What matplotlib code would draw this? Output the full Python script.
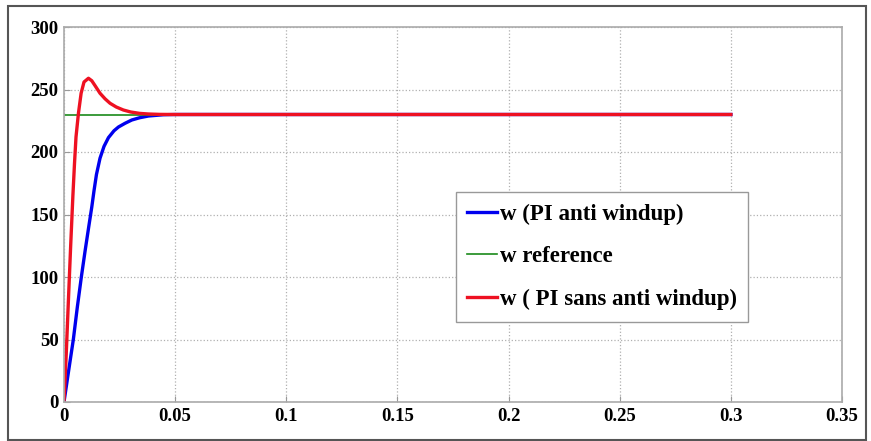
import matplotlib
matplotlib.use('Agg')
import matplotlib.pyplot as plt
from matplotlib.patches import Rectangle

# time (s) and speed values
t_blue = [0, 0.002, 0.0042, 0.006, 0.0078, 0.0095, 0.0112, 0.0125, 0.0135, 0.0146,
          0.0162, 0.018, 0.020, 0.0225, 0.0245, 0.0275, 0.0305, 0.034, 0.038, 0.0447,
          0.050, 0.300]
w_blue = [0, 24, 50, 76, 100, 121, 141, 156, 169, 182,
          195, 204.5, 211.5, 217, 220, 223, 225.6, 227.4, 228.8, 229.8,
          230, 230]

t_red = [0, 0.001, 0.002, 0.003, 0.004, 0.0047, 0.0054, 0.0065, 0.0077, 0.009,
         0.011, 0.0125, 0.014, 0.0162, 0.0185, 0.0207, 0.0235, 0.0267, 0.030, 0.034,
         0.038, 0.043, 0.050, 0.300]
w_red = [0, 38, 82, 125, 165, 190, 212, 231, 247, 256,
         259, 257, 253, 247, 242.5, 239, 236, 233.6, 232, 230.9,
         230.4, 230.1, 230, 230]

t_ref = [0, 0.3]
w_ref = [230, 230]

labels = ['w (PI anti windup)', 'w reference', 'w ( PI sans anti windup)']
xticks = [0, 0.05, 0.1, 0.15, 0.2, 0.25, 0.3, 0.35]
xticklabels = ['0', '0.05', '0.1', '0.15', '0.2', '0.25', '0.3', '0.35']
yticks = [0, 50, 100, 150, 200, 250, 300]

plt.rcParams['font.family'] = ['Liberation Serif', 'DejaVu Serif']

fig = plt.figure(figsize=(8.71, 4.41), dpi=100)
ax = fig.add_axes([64/871, 39/441, 778/871, 375/441])

ax.plot(t_blue, w_blue, color='#0000ee', lw=2.4, label=labels[0])
ax.plot(t_ref, w_ref, color='#1a8a1a', lw=1.2, label=labels[1])
ax.plot(t_red, w_red, color='#ee1122', lw=2.4, label=labels[2])

ax.set_xlim(0, 0.35)
ax.set_ylim(0, 300)
ax.set_xticks(xticks)
ax.set_xticklabels(xticklabels)
ax.set_yticks(yticks)
ax.grid(True, linestyle=':', color='#b0b0b0', lw=0.9)
ax.tick_params(direction='in', length=4, color='#999999', labelsize=13.5, pad=4)
for lab in ax.get_xticklabels() + ax.get_yticklabels():
    lab.set_fontweight('bold')
for s in ax.spines.values():
    s.set_color('#aaaaaa')
    s.set_linewidth(1.2)

leg = ax.legend(loc='upper left', bbox_to_anchor=(392/778, 210/375),
                prop={'weight': 'bold', 'size': 16.5}, handlelength=1.3,
                handletextpad=0.1, borderpad=0.5, labelspacing=0.95,
                fancybox=False, framealpha=1, borderaxespad=0)
leg.get_frame().set_edgecolor('#999999')
leg.get_frame().set_linewidth(1.0)

fig.patches.append(Rectangle((8/871, 1/441), 858/871, 434/441, transform=fig.transFigure,
                             fill=False, edgecolor='#555555', lw=1.5))

fig.savefig('out.png', dpi=100)
